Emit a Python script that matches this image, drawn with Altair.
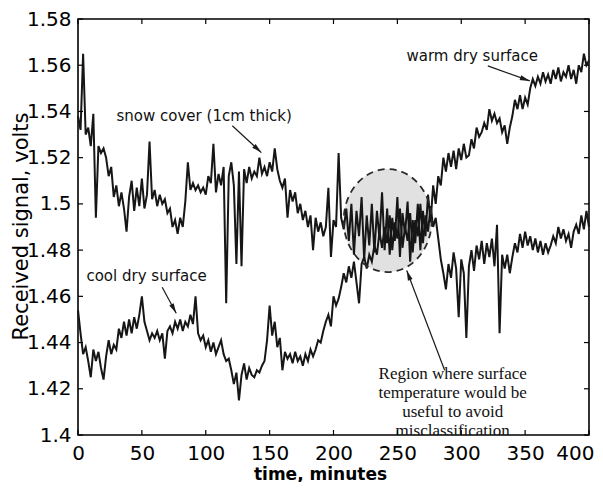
import math
import altair as alt
import pandas as pd

# ---------------- data ----------------
time_min = list(range(0, 401, 2))

# upper trace: snow cover (1cm thick) -> warm dry surface
upper = [
    1.538, 1.532, 1.565, 1.530, 1.533, 1.525, 1.539, 1.494, 1.525, 1.522,
    1.524, 1.520, 1.512, 1.516, 1.503, 1.508, 1.499, 1.505, 1.498, 1.488,
    1.503, 1.510, 1.497, 1.507, 1.499, 1.511, 1.498, 1.504, 1.527, 1.502,
    1.506, 1.499, 1.504, 1.500, 1.502, 1.496, 1.498, 1.490, 1.493, 1.487,
    1.494, 1.490, 1.501, 1.518, 1.506, 1.509, 1.506, 1.508, 1.505, 1.507,
    1.504, 1.512, 1.509, 1.526, 1.505, 1.513, 1.508, 1.516, 1.457, 1.512,
    1.518, 1.508, 1.474, 1.514, 1.473, 1.515, 1.509, 1.516, 1.511, 1.514,
    1.512, 1.520, 1.513, 1.516, 1.512, 1.518, 1.514, 1.524, 1.515, 1.510,
    1.507, 1.511, 1.494, 1.506, 1.501, 1.505, 1.496, 1.500, 1.493, 1.497,
    1.490, 1.495, 1.480, 1.494, 1.488, 1.492, 1.486, 1.490, 1.507, 1.477,
    1.493, 1.490, 1.522, 1.494, 1.489, 1.498, 1.484, 1.500, 1.478, 1.497,
    1.486, 1.503, 1.476, 1.495, 1.482, 1.500, 1.479, 1.497, 1.485, 1.505,
    1.480, 1.498, 1.478, 1.494, 1.484, 1.503, 1.477, 1.496, 1.487, 1.501,
    1.475, 1.493, 1.483, 1.500, 1.480, 1.497, 1.486, 1.504, 1.492, 1.508,
    1.500, 1.512, 1.508, 1.520, 1.514, 1.522, 1.516, 1.523, 1.515, 1.524,
    1.519, 1.526, 1.520, 1.521, 1.528, 1.524, 1.533, 1.529, 1.531, 1.535,
    1.532, 1.541, 1.536, 1.539, 1.535, 1.537, 1.531, 1.534, 1.526, 1.533,
    1.538, 1.545, 1.541, 1.547, 1.541, 1.546, 1.543, 1.550, 1.554, 1.551,
    1.555, 1.552, 1.557, 1.553, 1.556, 1.552, 1.558, 1.554, 1.559, 1.553,
    1.557, 1.555, 1.560, 1.554, 1.558, 1.552, 1.560, 1.557, 1.565, 1.560,
    1.562,
]

# lower trace: cool dry surface
lower = [
    1.454, 1.444, 1.435, 1.438, 1.432, 1.425, 1.437, 1.432, 1.436, 1.429,
    1.424, 1.434, 1.441, 1.435, 1.439, 1.437, 1.446, 1.442, 1.449, 1.443,
    1.450, 1.444, 1.451, 1.446, 1.452, 1.460, 1.449, 1.445, 1.441, 1.444,
    1.442, 1.445, 1.441, 1.444, 1.433, 1.445, 1.447, 1.444, 1.449, 1.446,
    1.450, 1.445, 1.449, 1.447, 1.452, 1.448, 1.460, 1.444, 1.441, 1.443,
    1.438, 1.441, 1.436, 1.440, 1.435, 1.438, 1.441, 1.435, 1.432, 1.433,
    1.428, 1.422, 1.427, 1.415, 1.426, 1.431, 1.424, 1.429, 1.426, 1.425,
    1.428, 1.427, 1.430, 1.432, 1.441, 1.456, 1.443, 1.449, 1.438, 1.442,
    1.428, 1.436, 1.433, 1.435, 1.431, 1.436, 1.432, 1.434, 1.430, 1.435,
    1.432, 1.437, 1.434, 1.437, 1.441, 1.440, 1.445, 1.449, 1.452, 1.447,
    1.460, 1.456, 1.459, 1.464, 1.470, 1.466, 1.473, 1.468, 1.475, 1.466,
    1.457, 1.474, 1.477, 1.472, 1.478, 1.475, 1.482, 1.478, 1.488, 1.481,
    1.490, 1.483, 1.495, 1.480, 1.492, 1.485, 1.498, 1.481, 1.490, 1.484,
    1.496, 1.479, 1.493, 1.486, 1.500, 1.483, 1.495, 1.488, 1.499, 1.490,
    1.494, 1.485, 1.476, 1.470, 1.463, 1.474, 1.468, 1.479, 1.472, 1.451,
    1.476, 1.470, 1.442, 1.473, 1.480, 1.471, 1.482, 1.476, 1.484, 1.474,
    1.483, 1.477, 1.485, 1.473, 1.491, 1.444, 1.478, 1.472, 1.478, 1.470,
    1.477, 1.483, 1.479, 1.487, 1.481, 1.488, 1.482, 1.486, 1.480, 1.485,
    1.479, 1.484, 1.478, 1.483, 1.479, 1.482, 1.486, 1.483, 1.490, 1.485,
    1.489, 1.484, 1.487, 1.481, 1.488, 1.491, 1.487, 1.495, 1.489, 1.497,
    1.490,
]

x_ticks = [0, 50, 100, 150, 200, 250, 300, 350, 400]
y_ticks = [1.40, 1.42, 1.44, 1.46, 1.48, 1.50, 1.52, 1.54, 1.56, 1.58]

label_text = ["snow cover (1cm thick)", "warm dry surface", "cool dry surface"]
label_t = [98.8, 308.6, 53.7]
label_v = [1.5381, 1.5640, 1.4686]

arrow_t = [120.8, 320.8, 65.9, 287.0]
arrow_v = [1.5338, 1.5597, 1.4639, 1.4280]
arrow_t2 = [143.5, 353.7, 76.9, 257.3]
arrow_v2 = [1.5222, 1.5532, 1.4527, 1.4712]

region_text = "Region where surface\ntemperature would be\nuseful to avoid\nmisclassification"
region_t = [293.3]
region_v = [1.4298]

circle_t = [242.4]
circle_v = [1.4928]

# ---------------- layout ----------------
W, H = 511, 416
X_DOM = [0, 400]
Y_DOM = [1.40, 1.58]
px_per_t = W / (X_DOM[1] - X_DOM[0])
px_per_v = H / (Y_DOM[1] - Y_DOM[0])

n = len(time_min)
lines_df = pd.DataFrame({
    "t": time_min + time_min,
    "v": upper[:n] + lower[:n],
    "s": ["upper"] * n + ["lower"] * n,
})

angles = []
for a, b, c, d in zip(arrow_t, arrow_v, arrow_t2, arrow_v2):
    dx = (c - a) * px_per_t
    dy = -(d - b) * px_per_v
    ang = math.degrees(math.atan2(dx, -dy)) % 360
    angles.append(ang)

arrows_df = pd.DataFrame({"t": arrow_t, "v": arrow_v, "t2": arrow_t2,
                          "v2": arrow_v2, "ang": angles})
heads_df = pd.DataFrame({"t": arrow_t2, "v": arrow_v2, "ang": angles})
labels_df = pd.DataFrame({"t": label_t, "v": label_v, "txt": label_text})
region_df = pd.DataFrame({"t": region_t, "v": region_v, "txt": [region_text]})
circle_df = pd.DataFrame({"t": circle_t, "v": circle_v})
xt_df = pd.DataFrame({"t": x_ticks})
yt_df = pd.DataFrame({"v": y_ticks})

xs = alt.Scale(domain=X_DOM, nice=False, zero=False)
ys = alt.Scale(domain=Y_DOM, nice=False, zero=False)

x_axis = alt.Axis(
    values=x_ticks, title="time, minutes", labelFont="DejaVu Sans",
    labelFontSize=20, labelColor="black", labelPadding=8, ticks=False,
    domain=False, grid=False, labelFlush=False,
    labelAlign=alt.ExprRef("datum.value == 400 ? 'right' : 'center'"),
    labelOffset=alt.ExprRef("datum.value == 400 ? 5 : 0"),
    titleFont="DejaVu Sans", titleFontSize=17, titleFontWeight="bold",
    titleColor="black", titleX=242, titleY=44, titleAlign="center",
    titleBaseline="alphabetic")
y_axis = alt.Axis(
    values=y_ticks, format=".2~f", title="Received signal, volts",
    labelFont="DejaVu Sans", labelFontSize=20, labelColor="black",
    labelPadding=7, ticks=False, domain=False, grid=False, labelFlush=False,
    titleFont="DejaVu Sans", titleFontSize=21, titleFontWeight="normal",
    titleColor="black", titleX=-51, titleY=207, titleAngle=270,
    titleAlign="center", titleBaseline="alphabetic")

X = alt.X("t:Q", scale=xs, axis=x_axis, title="time, minutes")
Y = alt.Y("v:Q", scale=ys, axis=y_axis, title="Received signal, volts")

ellipse_path = "M -0.854 0 A 0.854 1 0 1 0 0.854 0 A 0.854 1 0 1 0 -0.854 0 Z"
ell_size = (2 * 51.5) ** 2

circle_fill = alt.Chart(circle_df).mark_point(
    shape=ellipse_path, size=ell_size, filled=True, fill="#dadada",
    fillOpacity=0.8, strokeWidth=0, opacity=1
).encode(x=X, y=Y)

traces = alt.Chart(lines_df).mark_line(
    color="#161616", strokeWidth=2.0
).encode(x=X, y=Y, detail="s:N")

circle_edge = alt.Chart(circle_df).mark_point(
    shape=ellipse_path, size=ell_size, filled=False, stroke="#2a2a2a",
    strokeWidth=1.8, strokeDash=[7, 5], opacity=1
).encode(x=X, y=Y)

arrow_lines = alt.Chart(arrows_df).mark_rule(
    color="#1a1a1a", strokeWidth=1.2
).encode(x=X, y=Y, x2="t2:Q", y2="v2:Q")

arrow_heads = alt.Chart(heads_df).mark_point(
    shape="M 0 0 L 0.4 1.6 L -0.4 1.6 Z", size=156, filled=True,
    color="#1a1a1a", opacity=1
).encode(x=X, y=Y, angle=alt.Angle("ang:Q", scale=None))

labels = alt.Chart(labels_df).mark_text(
    font="DejaVu Sans", fontSize=15, color="#111111", align="center",
    baseline="middle"
).encode(x=X, y=Y, text="txt:N")

region = alt.Chart(region_df).mark_text(
    font="Liberation Serif", fontSize=17, lineHeight=19, color="#111111",
    align="center", baseline="top", lineBreak="\n", clip=True
).encode(x=X, y=Y, text="txt:N")

tick_len = 5
bt = alt.Chart(xt_df).mark_rule(color="black", strokeWidth=1.2).encode(
    x=X, y=alt.value(H), y2=alt.value(H - tick_len))
tt = alt.Chart(xt_df).mark_rule(color="black", strokeWidth=1.2).encode(
    x=X, y=alt.value(0), y2=alt.value(tick_len))
lt = alt.Chart(yt_df).mark_rule(color="black", strokeWidth=1.2).encode(
    y=Y, x=alt.value(0), x2=alt.value(tick_len))
rt = alt.Chart(yt_df).mark_rule(color="black", strokeWidth=1.2).encode(
    y=Y, x=alt.value(W), x2=alt.value(W - tick_len))

chart = alt.layer(
    circle_fill, traces, circle_edge, arrow_lines, arrow_heads, labels,
    region, bt, tt, lt, rt
).properties(
    width=W, height=H,
    autosize=alt.AutoSizeParams(type="none"),
    padding={"left": 70, "top": 11, "right": 6, "bottom": 47},
    background="white",
).configure_view(
    stroke="black", strokeWidth=1.6
)

chart.save("out.html", embed_options={"renderer": "svg", "actions": False})
